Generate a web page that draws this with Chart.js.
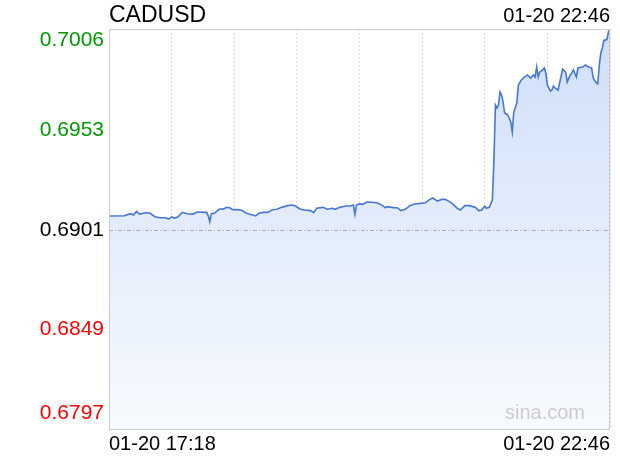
<!DOCTYPE html>
<html>
<head>
<meta charset="utf-8">
<script src="https://cdn.jsdelivr.net/npm/chart.js"></script>
<style>
html, body { margin: 0; padding: 0; background: #fff; }
</style>
</head>
<body>
<canvas id="myChart" width="620" height="460"></canvas>
<script>
var symbol = 'CADUSD';
var stamp = '01-20 22:46';
var xLabels = ['01-20 17:18', '01-20 22:46'];
var yTicks = [0.7006, 0.6953, 0.6901, 0.6849, 0.6797];
var prevClose = 0.6901;

// minutes after 17:18
var minutes = [0, 10, 14, 16, 18, 20, 24, 27, 30, 33, 37, 39, 41, 43, 45, 48, 51, 55, 58, 63,
    64, 65, 66, 67, 69, 72, 75, 77, 79, 81, 84, 87, 90, 94, 96, 98, 101, 104, 107, 110,
    113, 117, 120, 122, 125, 128, 132, 134, 136, 140, 143, 146, 148, 151, 155, 158, 160, 161, 162, 164,
    166, 169, 172, 176, 179, 181, 182, 185, 189, 191, 194, 197, 200, 204, 207, 210, 212, 215, 218, 220,
    223, 225, 228, 230, 233, 236, 240, 242, 244, 246, 247, 249, 251, 252, 253, 254, 255, 256, 257, 258,
    259, 261, 262, 263, 264, 265, 267, 268, 270, 272, 274, 276, 278, 279, 280, 281, 282, 284, 285, 286,
    287, 289, 290, 291, 292, 294, 295, 297, 299, 300, 302, 303, 304, 306, 307, 310, 312, 314, 316, 317,
    319, 320, 321, 322, 323, 324, 326, 327, 328];
var prices = [0.69083, 0.69084, 0.69095, 0.69088, 0.69107, 0.69093, 0.69100, 0.69097, 0.69079, 0.69074,
    0.69074, 0.69067, 0.69078, 0.69072, 0.69078, 0.69102, 0.69095, 0.69093, 0.69104, 0.69102,
    0.69102, 0.69083, 0.69053, 0.69095, 0.69097, 0.69118, 0.69120, 0.69128, 0.69126, 0.69116,
    0.69116, 0.69113, 0.69097, 0.69088, 0.69084, 0.69097, 0.69102, 0.69102, 0.69116, 0.69118,
    0.69128, 0.69137, 0.69140, 0.69135, 0.69120, 0.69114, 0.69111, 0.69100, 0.69123, 0.69128,
    0.69118, 0.69123, 0.69118, 0.69128, 0.69135, 0.69135, 0.69140, 0.69092, 0.69140, 0.69146,
    0.69144, 0.69156, 0.69155, 0.69151, 0.69137, 0.69126, 0.69132, 0.69128, 0.69125, 0.69111,
    0.69118, 0.69137, 0.69146, 0.69149, 0.69152, 0.69170, 0.69177, 0.69161, 0.69170, 0.69170,
    0.69158, 0.69146, 0.69123, 0.69114, 0.69137, 0.69137, 0.69128, 0.69111, 0.69114, 0.69135,
    0.69123, 0.69128, 0.69167, 0.69376, 0.69663, 0.69647, 0.69663, 0.69731, 0.69715, 0.69679,
    0.69621, 0.69611, 0.69595, 0.69574, 0.69522, 0.69626, 0.69673, 0.69767, 0.69794, 0.69809,
    0.69820, 0.69804, 0.69820, 0.69809, 0.69861, 0.69809, 0.69835, 0.69846, 0.69856, 0.69830,
    0.69767, 0.69736, 0.69741, 0.69762, 0.69752, 0.69741, 0.69778, 0.69851, 0.69835, 0.69783,
    0.69820, 0.69830, 0.69846, 0.69809, 0.69856, 0.69861, 0.69872, 0.69861, 0.69856, 0.69804,
    0.69778, 0.69773, 0.69872, 0.69935, 0.69961, 0.70000, 0.70005, 0.70045, 0.70060];

var font = '"Liberation Sans", Arial, sans-serif';

var points = minutes.map(function (m, i) { return { x: m, y: prices[i] }; });

var frame = {
    id: 'frame',
    afterDatasetsDraw: function (chart) {
        var c = chart.ctx, a = chart.chartArea, ys = chart.scales.y;
        c.save();
        // previous close line
        var py = Math.round(ys.getPixelForValue(prevClose)) + 0.5;
        c.strokeStyle = '#aaaaaa';
        c.lineWidth = 1;
        c.setLineDash([4, 2, 1, 2]);
        c.beginPath(); c.moveTo(a.left, py); c.lineTo(a.right, py); c.stroke();
        c.setLineDash([]);
        // plot border
        c.strokeStyle = '#cccccc';
        c.strokeRect(a.left + 0.5, a.top + 0.5, a.right - a.left - 1, a.bottom - a.top);
        // y labels
        c.font = '21px ' + font;
        c.textAlign = 'right';
        c.textBaseline = 'middle';
        yTicks.forEach(function (v, i) {
            var y = ys.getPixelForValue(v);
            if (i === 0) y = a.top + 11;
            if (i === yTicks.length - 1) y = a.bottom - 16;
            c.fillStyle = v > prevClose ? '#009900' : (v < prevClose ? '#ff0000' : '#000000');
            c.fillText(v.toFixed(4), a.left - 5, y);
        });
        // header
        c.fillStyle = '#000';
        c.textAlign = 'left';
        c.font = '23px ' + font;
        c.fillText(symbol, a.left, 16);
        c.textAlign = 'right';
        c.font = '20px ' + font;
        c.fillText(stamp, a.right, 16);
        // watermark
        c.fillStyle = '#cccccc';
        c.textAlign = 'center';
        c.fillText('sina.com', 545, a.bottom - 16);
        c.restore();
    }
};

var ctx = document.getElementById('myChart').getContext('2d');
var myChart = new Chart(ctx, {
    type: 'line',
    data: {
        datasets: [{
            data: points,
            borderColor: '#4677d2',
            borderWidth: 1.6,
            pointRadius: 0,
            tension: 0,
            fill: 'start',
            backgroundColor: function (context) {
                var a = context.chart.chartArea;
                if (!a) return 'rgba(214,228,250,0.8)';
                var g = context.chart.ctx.createLinearGradient(0, a.top, 0, a.bottom);
                g.addColorStop(0, 'rgba(207,223,249,1)');
                g.addColorStop(1, 'rgba(247,250,254,1)');
                return g;
            }
        }]
    },
    options: {
        responsive: false,
        animation: false,
        layout: { padding: { left: 109, right: 10, top: 29, bottom: 0 } },
        plugins: { legend: { display: false }, tooltip: { enabled: false } },
        scales: {
            x: {
                type: 'linear',
                min: 0,
                max: 328,
                afterFit: function (s) { s.height = 31; },
                grid: { color: '#dddddd', drawTicks: false },
                border: { display: false, dash: [2, 2] },
                ticks: {
                    stepSize: 41,
                    autoSkip: false,
                    maxRotation: 0,
                    align: 'inner',
                    padding: 3,
                    color: '#000',
                    font: { family: font, size: 20 },
                    callback: function (v, i, t) {
                        if (i === 0) return xLabels[0];
                        if (i === t.length - 1) return xLabels[1];
                        return '';
                    }
                }
            },
            y: {
                min: 0.6797,
                max: 0.7006,
                display: false
            }
        }
    },
    plugins: [frame]
});
</script>
</body>
</html>
